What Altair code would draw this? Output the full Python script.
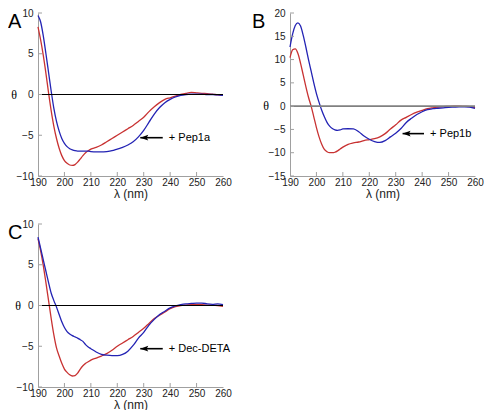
import altair as alt
import pandas as pd

# ---------------- data ----------------
lam = [190, 191, 192, 193, 194, 195, 196, 197, 198, 199, 200, 201, 202, 203, 204, 205,
       206, 207, 208, 209, 210, 212, 214, 216, 218, 220, 222, 224, 226, 228, 230, 232,
       234, 236, 238, 240, 242, 244, 246, 248, 250, 252, 254, 256, 258, 260]

a_red = [8.3, 6.7, 4.8, 2.6, 0.2, -2.0, -3.9, -5.4, -6.6, -7.5, -8.1, -8.45, -8.65, -8.7, -8.6, -8.3,
         -7.9, -7.5, -7.15, -6.9, -6.7, -6.5, -6.2, -5.8, -5.4, -5.0, -4.6, -4.2, -3.8, -3.3, -2.8, -2.1,
         -1.5, -1.0, -0.6, -0.4, -0.2, 0.0, 0.15, 0.25, 0.2, 0.15, 0.1, 0.05, -0.05, -0.1]
a_blue = [9.7, 8.9, 7.2, 5.0, 2.7, 0.4, -1.7, -3.3, -4.5, -5.4, -6.0, -6.4, -6.65, -6.8, -6.9, -6.95,
          -6.95, -6.95, -6.95, -6.95, -7.0, -7.05, -7.05, -7.0, -6.9, -6.7, -6.5, -6.2, -5.8, -5.2, -4.4, -3.4,
          -2.4, -1.6, -1.0, -0.6, -0.3, -0.1, 0.0, 0.05, 0.05, 0.05, 0.0, 0.0, -0.05, -0.1]

b_red = [10.4, 12.1, 12.3, 11.3, 9.2, 6.7, 4.2, 1.9, 0.0, -2.3, -4.6, -6.6, -8.2, -9.3, -9.8, -10.0,
         -10.0, -9.9, -9.6, -9.2, -8.8, -8.2, -7.9, -7.7, -7.4, -7.2, -7.0, -6.6, -5.9, -4.9, -4.0, -3.0,
         -2.4, -1.8, -1.3, -0.9, -0.55, -0.35, -0.2, -0.1, -0.05, 0.0, 0.0, -0.05, -0.1, -0.3]
b_blue = [12.7, 15.5, 17.3, 17.9, 17.2, 15.2, 12.7, 10.0, 7.5, 5.0, 2.7, 0.8, -0.9, -2.3, -3.5, -4.3,
          -4.8, -5.1, -5.2, -5.1, -4.9, -4.85, -4.9, -5.5, -6.4, -7.1, -7.6, -7.8, -7.4, -6.6, -5.8, -4.8,
          -3.5, -2.6, -1.8, -1.2, -0.75, -0.55, -0.45, -0.35, -0.25, -0.2, -0.15, -0.15, -0.2, -0.5]

c_red = [8.2, 6.7, 4.9, 2.8, 0.6, -1.6, -3.6, -5.2, -6.2, -7.1, -7.8, -8.2, -8.5, -8.65, -8.6, -8.3,
         -7.8, -7.4, -7.1, -6.9, -6.7, -6.45, -6.2, -5.9, -5.5, -5.0, -4.6, -4.2, -3.8, -3.3, -2.8, -2.2,
         -1.6, -1.2, -0.8, -0.4, -0.15, 0.0, 0.05, 0.1, 0.1, 0.1, 0.05, 0.05, 0.0, -0.1]
c_blue = [8.4, 7.0, 5.6, 4.2, 2.8, 1.5, 0.6, -0.2, -1.1, -2.0, -2.7, -3.2, -3.5, -3.7, -3.85, -4.0,
          -4.2, -4.4, -4.8, -5.1, -5.3, -5.7, -6.0, -6.1, -6.15, -6.15, -6.0, -5.6, -4.9, -4.0, -3.3, -2.4,
          -1.7, -1.1, -0.7, -0.3, -0.05, 0.1, 0.2, 0.25, 0.3, 0.3, 0.2, 0.15, 0.2, 0.1]

x_ticks = [190, 200, 210, 220, 230, 240, 250, 260]
a_yticks = [-10, -5, 0, 5, 10]
b_yticks = [-15, -10, -5, 0, 5, 10, 15, 20]
c_yticks = [-10, -5, 0, 5, 10]

labels = ["+ Pep1a", "+ Pep1b", "+ Dec-DETA"]
letters = ["A", "B", "C"]

RED = "#c83232"
BLUE = "#2323b4"
AXIS = "#a0a0a0"
W, H = 185, 163
FONT = "Liberation Sans"


def panel(red, blue, ydom, yticks, letter, letter_x, theta_x,
          head, tail, ay, label, zero_color, zero_w):
    n = len(lam)
    df = pd.DataFrame({"lam": lam + lam, "theta": red + blue,
                       "series": ["red"] * n + ["blue"] * n})
    xs = alt.Scale(domain=[190, 260], nice=False)
    ys = alt.Scale(domain=ydom, nice=False)
    xax = alt.Axis(values=x_ticks, title="λ (nm)", labelFlush=False, labelOverlap=False,
                   ticks=False, grid=False, domainColor=AXIS, labelFontSize=10,
                   labelFont=FONT, labelColor="#222", labelPadding=1, titleFont=FONT,
                   titleFontSize=12, titleFontWeight="normal", titleColor="#222",
                   titlePadding=1)
    yax = alt.Axis(values=yticks, title=None, labelFlush=False, labelOverlap=False,
                   ticks=False, grid=False, domainColor=AXIS, labelFontSize=10,
                   labelFont=FONT, labelColor="#222", labelPadding=5)

    def X(f):
        return alt.X(f, scale=xs, axis=xax, title="λ (nm)")

    def Y(f):
        return alt.Y(f, scale=ys, axis=yax, title=None)

    zero = alt.Chart(pd.DataFrame({"z": [0]})).mark_rule(
        color=zero_color, strokeWidth=zero_w).encode(y=Y("z:Q"))

    lines = alt.Chart(df).mark_line(strokeWidth=1.3, interpolate="monotone").encode(
        x=X("lam:Q"),
        y=Y("theta:Q"),
        color=alt.Color("series:N", scale=alt.Scale(domain=["red", "blue"], range=[RED, BLUE]),
                        legend=None),
        order=alt.Order("lam:Q"))

    xt = alt.Chart(pd.DataFrame({"t": x_ticks[1:-1]})).mark_rule(
        color=AXIS, strokeWidth=1).encode(
        x=X("t:Q"), y=alt.value(H), y2=alt.value(H - 4))
    yt = alt.Chart(pd.DataFrame({"t": yticks})).mark_rule(
        color=AXIS, strokeWidth=1).encode(
        y=Y("t:Q"), x=alt.value(0), x2=alt.value(4))

    let = alt.Chart(pd.DataFrame({"t": [letter]})).mark_text(
        font=FONT, fontSize=20, align="left", baseline="alphabetic", color="black").encode(
        text="t:N", x=alt.value(letter_x), y=alt.value(15))

    th = alt.Chart(pd.DataFrame({"t": ["θ"], "v": [0]})).mark_text(
        font="Liberation Serif", fontSize=12, align="center", baseline="middle",
        color="black").encode(text="t:N", x=alt.value(theta_x), y=Y("v:Q"))

    arr = pd.DataFrame({"h": [head], "t": [tail], "y": [ay], "lab": [label],
                        "lx": [tail + 2.3]})
    shaft = alt.Chart(arr).mark_rule(color="black", strokeWidth=1.6).encode(
        x=X("h:Q"), x2="t:Q", y=Y("y:Q"))
    tip = alt.Chart(arr).mark_point(
        shape="M0,0 L1,-0.36 L0.8,0 L1,0.36 Z", filled=True, size=256, color="black",
        opacity=1).encode(x=X("h:Q"), y=Y("y:Q"))
    txt = alt.Chart(arr).mark_text(
        font=FONT, fontSize=11, align="left", baseline="middle", color="black").encode(
        x=X("lx:Q"), y=Y("y:Q"), text="lab:N")

    return alt.layer(lines, zero, xt, yt, let, th, shaft, tip, txt).properties(
        width=W, height=H)


pa = panel(a_red, a_blue, [-10, 10], a_yticks, letters[0], -30, -24,
           228.7, 237.2, -5.3, labels[0], "black", 1.2)
pb = panel(b_red, b_blue, [-15, 20], b_yticks, letters[1], -38, -24,
           232.6, 240.7, -5.9, labels[1], "#808080", 1.6)
pc = panel(c_red, c_blue, [-10, 10], c_yticks, letters[2], -30, -20,
           228.7, 237.2, -5.3, labels[2], "black", 1.2)

chart = alt.vconcat(alt.hconcat(pa, pb, spacing=20), pc, spacing=20).properties(
    padding=0).configure_view(stroke=None)

chart.save("out.html", embed_options={"renderer": "svg", "actions": False})
